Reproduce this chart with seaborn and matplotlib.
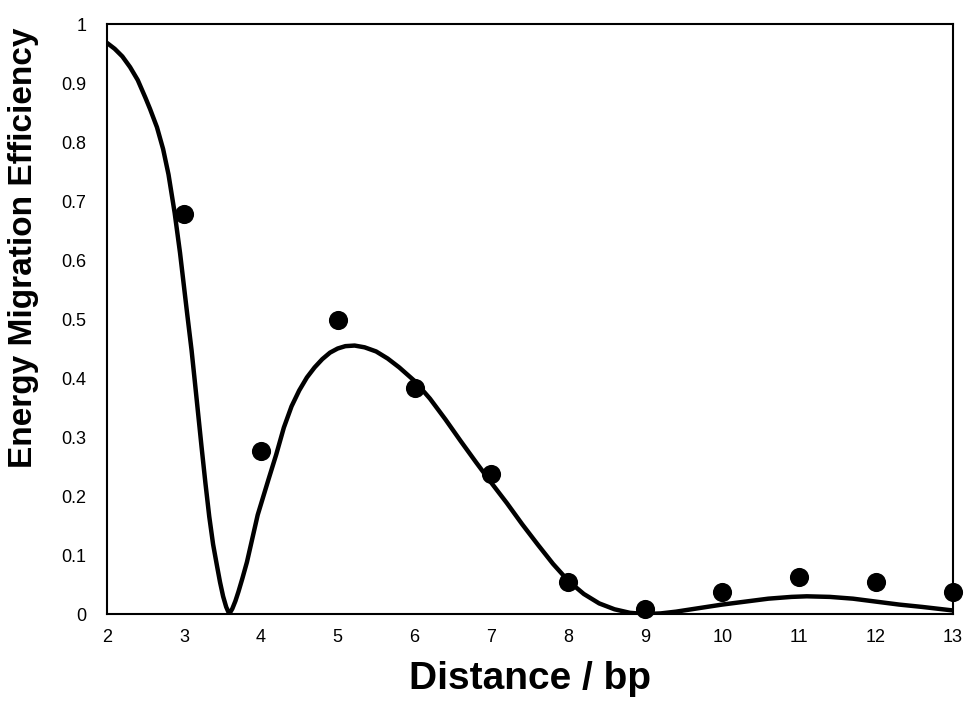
import matplotlib
matplotlib.use("Agg")
import matplotlib.pyplot as plt
import seaborn as sns
import pandas as pd

# Measured points
distance = [3, 4, 5, 6, 7, 8, 9, 10, 11, 12, 13]
efficiency = [0.678, 0.277, 0.499, 0.383, 0.237, 0.054, 0.008, 0.038, 0.063, 0.054, 0.038]

# Fitted curve
fit_x = [2.00, 2.10, 2.20, 2.30, 2.40, 2.50, 2.56, 2.65, 2.73, 2.80, 2.88, 2.95, 3.04,
         3.10, 3.14, 3.23, 3.28, 3.33, 3.38, 3.43, 3.47, 3.51, 3.55, 3.59, 3.63, 3.67, 3.71,
         3.76, 3.82, 3.89, 3.96, 4.03, 4.10, 4.20, 4.30, 4.40, 4.50, 4.60, 4.70, 4.80,
         4.90, 5.00, 5.10, 5.22, 5.35, 5.50, 5.65, 5.80, 6.00, 6.20, 6.40, 6.60, 6.80,
         7.00, 7.20, 7.40, 7.60, 7.80, 8.00, 8.20, 8.40, 8.60, 8.80, 9.00, 9.20, 9.40,
         9.60, 9.80, 10.00, 10.30, 10.60, 10.90, 11.10, 11.40, 11.70, 12.00, 12.30,
         12.60, 12.80, 13.00]
fit_y = [0.968, 0.958, 0.945, 0.927, 0.905, 0.875, 0.856, 0.825, 0.788, 0.745, 0.680, 0.612, 0.512,
         0.447, 0.397, 0.283, 0.222, 0.165, 0.118, 0.082, 0.054, 0.030, 0.012, 0.000, 0.009, 0.022, 0.038,
         0.060, 0.088, 0.128, 0.168, 0.198, 0.228, 0.270, 0.316, 0.352, 0.379, 0.401, 0.418, 0.432,
         0.443, 0.450, 0.454, 0.455, 0.452, 0.445, 0.433, 0.418, 0.395, 0.365, 0.330, 0.293, 0.257,
         0.222, 0.188, 0.152, 0.118, 0.085, 0.056, 0.034, 0.018, 0.008, 0.002, 0.000, 0.001, 0.004,
         0.008, 0.012, 0.016, 0.021, 0.026, 0.029, 0.030, 0.029, 0.026, 0.021, 0.016,
         0.012, 0.009, 0.006]

x_ticks = list(range(2, 14))
y_ticks = [0, 0.1, 0.2, 0.3, 0.4, 0.5, 0.6, 0.7, 0.8, 0.9, 1]
y_tick_labels = ["0", "0.1", "0.2", "0.3", "0.4", "0.5", "0.6", "0.7", "0.8", "0.9", "1"]

sns.set_style("white")
plt.rcParams['font.family'] = ['Liberation Sans', 'DejaVu Sans']
plt.rcParams['text.color'] = 'black'
plt.rcParams['axes.labelcolor'] = 'black'
plt.rcParams['xtick.color'] = 'black'
plt.rcParams['ytick.color'] = 'black'

fig = plt.figure(figsize=(9.69, 7.06), dpi=100)
ax = fig.add_axes([0.1104, 0.1303, 0.873, 0.8357])

pts = pd.DataFrame({'Distance': distance, 'Efficiency': efficiency})
fit = pd.DataFrame({'Distance': fit_x, 'Efficiency': fit_y})

sns.lineplot(data=fit, x='Distance', y='Efficiency', color='black', linewidth=3.2,
             sort=False, solid_joinstyle='round', ax=ax)
sns.scatterplot(data=pts, x='Distance', y='Efficiency', color='black', s=190,
                edgecolor='black', linewidth=0, clip_on=False, zorder=5, ax=ax)

ax.set_xlim(2, 13)
ax.set_ylim(0, 1)
ax.set_xticks(x_ticks)
ax.set_xticklabels([str(t) for t in x_ticks])
ax.set_yticks(y_ticks)
ax.set_yticklabels(y_tick_labels)
ax.tick_params(axis='x', length=0, pad=11, labelsize=13)
ax.tick_params(axis='y', length=0, pad=15, labelsize=13)

for sp in ax.spines.values():
    sp.set_color('black')
    sp.set_linewidth(1.5)

ax.set_xlabel('Distance / bp', fontsize=28, fontweight='bold')
ax.set_ylabel('Energy Migration Efficiency', fontsize=24, fontweight='bold')
ax.xaxis.set_label_coords(0.5, -0.08)
ax.yaxis.set_label_coords(-0.080, 0.62)

fig.savefig('out.png', dpi=100)
